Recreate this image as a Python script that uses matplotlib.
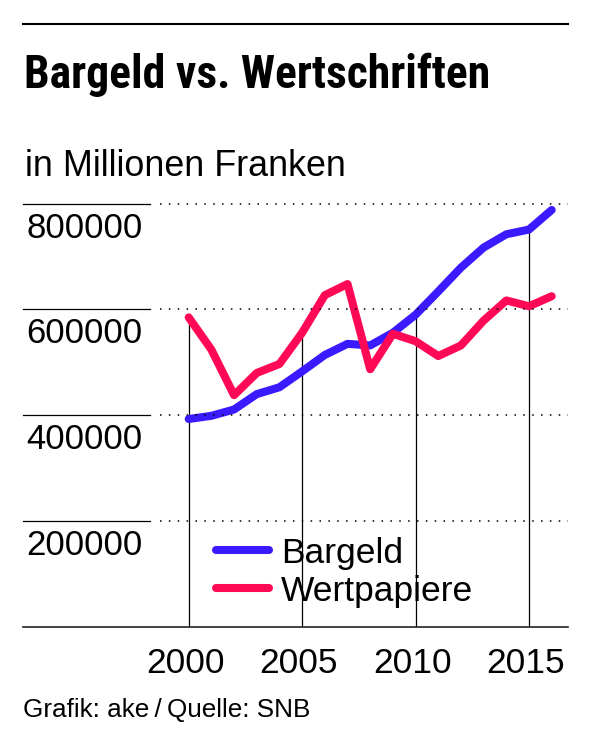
import matplotlib
matplotlib.use("Agg")
import matplotlib.pyplot as plt
import matplotlib.transforms as mtransforms
from matplotlib.lines import Line2D
import numpy as np

# Daten (Mio. CHF)
jahre = np.arange(2000, 2017)
bargeld = [393000, 399000, 411000, 440000, 453000, 483000, 514000, 535000, 532000,
           556000, 590000, 634000, 679000, 717000, 742000, 751000, 788000]
wertpapiere = [585000, 524000, 438000, 480000, 497000, 556000, 627000, 648000, 487000,
               554000, 540000, 512000, 532000, 579000, 617000, 606000, 625000]
y_ticks = [200000, 400000, 600000, 800000]
y_labels = ["200000", "400000", "600000", "800000"]
x_ticks = [2000, 2005, 2010, 2015]
x_labels = ["2000", "2005", "2010", "2015"]

BLAU = "#3a1aff"
ROT = "#ff0855"
W, H = 591, 749

plt.rcParams["font.family"] = ["Liberation Sans", "DejaVu Sans"]

fig = plt.figure(figsize=(W / 100, H / 100), dpi=100)
# Achse: links 23 px, rechts 568 px, unten 627 px, oben 190 px
ax = fig.add_axes([23 / W, 1 - 627 / H, 545 / W, 437 / H])
ax.set_xlim(1992.696, 2016.719)
ax.set_ylim(0, 825700)
ax.axis("off")

# Gitterlinien: kurzes Stück durchgezogen, danach gepunktet
for y in y_ticks:
    ax.axhline(y, 0, 0.233, color="black", lw=0.9, clip_on=False, zorder=3)
    ax.axhline(y, 0.2514, 1, color="black", lw=1.1, ls=(0, (1, 4.8)),
               clip_on=False, zorder=3)
ax.axhline(0, 0, 1, color="#222222", lw=1.2, clip_on=False, zorder=3)

# senkrechte Linien bis zur oberen Kurve
oben = np.maximum(bargeld, wertpapiere)
for x in x_ticks:
    ax.vlines(x, 0, oben[x - 2000], color="black", lw=0.9, zorder=1)

ax.plot(jahre, bargeld, color=BLAU, lw=5.8, solid_capstyle="round",
        solid_joinstyle="round", label="Bargeld", zorder=2, clip_on=False)
ax.plot(jahre, wertpapiere, color=ROT, lw=5.8, solid_capstyle="round",
        solid_joinstyle="round", label="Wertpapiere", zorder=2, clip_on=False)

# Y-Beschriftung unter den Linien
trans_y = mtransforms.blended_transform_factory(fig.transFigure, ax.transData)
trans_y = mtransforms.offset_copy(trans_y, fig=fig, y=-34, units="dots")
for y, lab in zip(y_ticks, y_labels):
    ax.text(26 / W, y, lab, transform=trans_y, fontsize=25, ha="left",
            va="baseline")

trans_x = mtransforms.offset_copy(ax.transData, fig=fig, y=-46, units="dots")
for x, lab in zip(x_ticks, x_labels):
    ax.text(x - 0.15, 0, lab, transform=trans_x, fontsize=25.5, ha="center",
            va="baseline")

leg = fig.legend(loc="center left", bbox_to_anchor=(216 / W, 1 - 572.2 / H),
                 frameon=False, fontsize=25.5, handlelength=1.5,
                 handletextpad=0.33, labelspacing=0.14, borderpad=0,
                 borderaxespad=0)

# Kopf
fig.add_artist(Line2D([23 / W, 568 / W], [1 - 24 / H] * 2, color="black", lw=1.5))
titel = fig.text(24 / W, 1 - 88 / H, "Bargeld vs. Wertschriften",
                 family=["Roboto Condensed", "Liberation Sans"], weight="bold",
                 fontsize=33.5, ha="left", va="baseline")
fig.text(25 / W, 1 - 176 / H, "in Millionen Franken", fontsize=25.8,
         ha="left", va="baseline")
fig.text(23 / W, 1 - 717 / H, "Grafik: ake\u2009/\u2009Quelle: SNB", fontsize=18.8,
         ha="left", va="baseline")

# Titelbreite auf ca. 466 px anpassen
fig.canvas.draw()
breite = titel.get_window_extent().width
titel.set_fontsize(33.5 * 466 / breite)

fig.savefig("out.png", dpi=100)
